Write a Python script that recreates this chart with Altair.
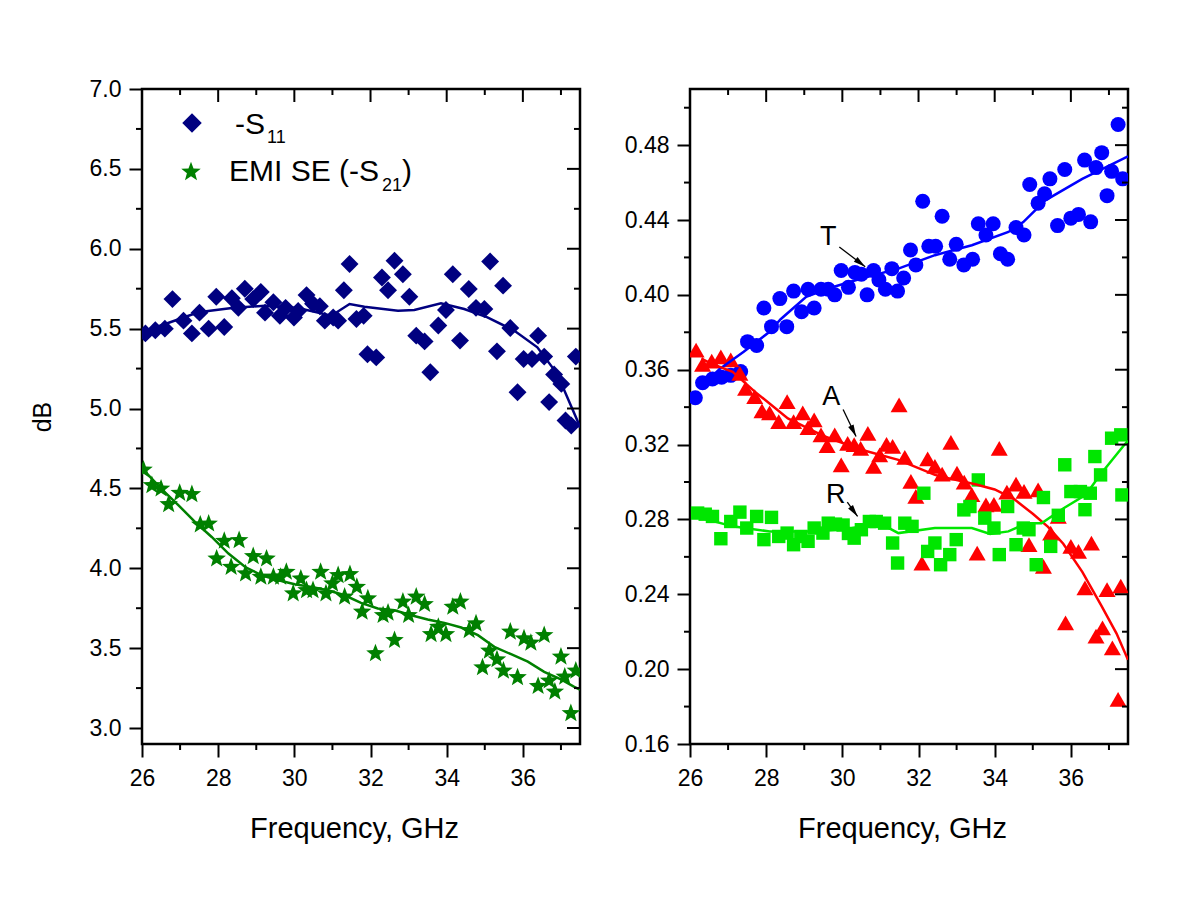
import math
import altair as alt
import pandas as pd

# ---------------- data ----------------
# Left panel: -S11 (diamonds) and EMI SE (-S21) (stars), dB
s11_freq = [26.09, 26.35, 26.6, 26.8, 27.09, 27.31, 27.51, 27.75, 27.95, 28.16, 28.36, 28.53, 28.70,
            28.92, 29.12, 29.23, 29.45, 29.62, 29.77, 29.99, 30.1, 30.32, 30.49, 30.67, 30.80, 31.02,
            31.15, 31.3, 31.45, 31.63, 31.82, 31.92, 32.15, 32.3, 32.46, 32.63, 32.85, 33.02, 33.2,
            33.42, 33.57, 33.78, 33.98, 34.16, 34.35, 34.58, 34.77, 34.99, 35.14, 35.32, 35.48, 35.67,
            35.86, 36.02, 36.24, 36.4, 36.56, 36.69, 36.82, 37.01, 37.12, 37.27, 37.39]
s11_db = [5.47, 5.49, 5.50, 5.685, 5.55, 5.47, 5.60, 5.50, 5.70, 5.51, 5.69, 5.63, 5.75, 5.685, 5.73,
          5.60, 5.665, 5.58, 5.63, 5.57, 5.61, 5.71, 5.655, 5.64, 5.55, 5.57, 5.55, 5.74, 5.905, 5.56,
          5.58, 5.34, 5.32, 5.82, 5.74, 5.925, 5.84, 5.70, 5.456, 5.42, 5.227, 5.52, 5.617, 5.84, 5.425,
          5.748, 5.63, 5.623, 5.92, 5.358, 5.769, 5.504, 5.102, 5.31, 5.31, 5.456, 5.325, 5.04, 5.213,
          5.154, 4.925, 4.894, 5.325]
s21_freq = [26.04, 26.26, 26.5, 26.7, 26.99, 27.31, 27.53, 27.75, 27.96, 28.16, 28.34, 28.55, 28.72,
            28.92, 29.12, 29.27, 29.45, 29.64, 29.79, 29.97, 30.17, 30.32, 30.49, 30.69, 30.83, 31.0,
            31.15, 31.32, 31.46, 31.64, 31.78, 31.93, 32.13, 32.33, 32.46, 32.63, 32.85, 33.0, 33.2,
            33.42, 33.59, 33.78, 33.98, 34.16, 34.36, 34.59, 34.77, 34.94, 35.12, 35.32, 35.49, 35.67,
            35.86, 36.03, 36.21, 36.4, 36.56, 36.69, 36.84, 37.0, 37.1, 37.26, 37.39]
s21_db = [4.617, 4.519, 4.498, 4.40, 4.471, 4.463, 4.273, 4.279, 4.06, 4.171, 4.008, 4.175, 3.967,
          4.075, 3.946, 4.06, 3.946, 3.946, 3.977, 3.842, 3.935, 3.862, 3.862, 3.977, 3.842, 3.904,
          3.956, 3.821, 3.962, 3.883, 3.727, 3.81, 3.467, 3.706, 3.721, 3.55, 3.79, 3.706, 3.821,
          3.775, 3.587, 3.633, 3.587, 3.758, 3.79, 3.612, 3.654, 3.379, 3.483, 3.429, 3.358, 3.602,
          3.317, 3.56, 3.533, 3.262, 3.581, 3.296, 3.227, 3.446, 3.321, 3.092, 3.358]
s11_fit_freq = [26.0, 26.61, 27.48, 28.36, 29.23, 30.1, 30.97, 31.45, 31.84, 32.72, 33.15, 33.85,
                34.46, 35.07, 35.77, 36.38, 36.9, 37.43, 37.5]
s11_fit_db = [5.48, 5.529, 5.602, 5.629, 5.644, 5.629, 5.581, 5.654, 5.637, 5.612, 5.617, 5.658,
              5.623, 5.571, 5.488, 5.383, 5.217, 4.925, 4.88]
s21_fit_freq = [26.03, 26.55, 26.96, 27.39, 27.83, 28.27, 28.71, 29.14, 29.58, 30.01, 30.45, 30.88,
                31.32, 31.75, 32.19, 32.63, 33.07, 33.5, 33.94, 34.38, 34.82, 35.25, 35.69, 36.13,
                36.56, 37.0, 37.35, 37.5]
s21_fit_db = [4.617, 4.487, 4.394, 4.29, 4.196, 4.092, 4.008, 3.956, 3.925, 3.9, 3.883, 3.862, 3.831,
              3.783, 3.748, 3.737, 3.706, 3.679, 3.658, 3.629, 3.581, 3.508, 3.462, 3.415, 3.352,
              3.304, 3.258, 3.24]

# Right panel: T (circles), A (triangles), R (squares)
t_freq = [26.14, 26.33, 26.59, 26.83, 27.07, 27.33, 27.51, 27.75, 27.94, 28.14, 28.36, 28.54, 28.72,
          28.93, 29.1, 29.26, 29.44, 29.63, 29.8, 29.97, 30.16, 30.33, 30.5, 30.65, 30.82, 30.96,
          31.13, 31.3, 31.45, 31.61, 31.79, 31.93, 32.11, 32.27, 32.45, 32.62, 32.82, 32.99, 33.19,
          33.42, 33.57, 33.77, 33.96, 34.15, 34.34, 34.56, 34.77, 34.92, 35.14, 35.31, 35.45, 35.65,
          35.84, 36.0, 36.2, 36.36, 36.52, 36.66, 36.81, 36.95, 37.07, 37.24, 37.36]
t_val = [0.345, 0.353, 0.355, 0.356, 0.357, 0.359, 0.375, 0.373, 0.393, 0.383, 0.398, 0.383, 0.402,
         0.391, 0.403, 0.393, 0.403, 0.403, 0.400, 0.413, 0.404, 0.412, 0.411, 0.400, 0.413, 0.408,
         0.403, 0.414, 0.402, 0.409, 0.424, 0.416, 0.450, 0.426, 0.426, 0.442, 0.419, 0.427, 0.416,
         0.419, 0.438, 0.432, 0.438, 0.422, 0.419, 0.436, 0.432, 0.459, 0.449, 0.454, 0.462, 0.437,
         0.467, 0.441, 0.443, 0.472, 0.439, 0.468, 0.476, 0.453, 0.466, 0.491, 0.462]
a_freq = [26.16, 26.33, 26.57, 26.81, 27.07, 27.31, 27.46, 27.70, 27.89, 28.09, 28.33, 28.55, 28.72,
          28.96, 29.10, 29.26, 29.44, 29.60, 29.80, 29.97, 30.14, 30.31, 30.48, 30.67, 30.82, 30.98,
          31.16, 31.32, 31.49, 31.64, 31.80, 31.93, 32.09, 32.24, 32.43, 32.62, 32.85, 33.01, 33.20,
          33.40, 33.54, 33.77, 33.98, 34.12, 34.32, 34.56, 34.77, 34.90, 35.14, 35.28, 35.47, 35.67,
          35.86, 36.0, 36.2, 36.37, 36.54, 36.66, 36.83, 36.95, 37.09, 37.24, 37.31]
a_val = [0.3705, 0.3628, 0.3646, 0.3669, 0.3652, 0.358, 0.350, 0.3456, 0.338, 0.337, 0.3323, 0.3429,
         0.3323, 0.337, 0.3291, 0.3332, 0.3252, 0.3195, 0.3252, 0.3092, 0.3207, 0.320, 0.318, 0.326,
         0.3083, 0.3145, 0.3201, 0.319, 0.3412, 0.3131, 0.3003, 0.2923, 0.2567, 0.3123, 0.3083, 0.3042,
         0.3212, 0.3047, 0.2999, 0.2932, 0.262, 0.2878, 0.2881, 0.318, 0.2946, 0.2988, 0.295, 0.2665,
         0.2958, 0.2549, 0.2727, 0.2816, 0.2247, 0.2656, 0.2629, 0.2434, 0.2674, 0.2176, 0.222, 0.2425,
         0.2114, 0.1838, 0.2443]
r_freq = [26.2, 26.4, 26.59, 26.81, 27.07, 27.31, 27.49, 27.75, 27.94, 28.14, 28.33, 28.55, 28.72,
          28.91, 29.1, 29.26, 29.49, 29.63, 29.82, 30.02, 30.16, 30.31, 30.5, 30.71, 30.89, 31.11,
          31.32, 31.45, 31.64, 31.83, 32.14, 32.24, 32.43, 32.58, 32.82, 32.99, 33.19, 33.35, 33.57,
          33.74, 33.98, 34.12, 34.34, 34.56, 34.75, 34.9, 35.09, 35.28, 35.47, 35.67, 35.84, 36.0,
          36.25, 36.37, 36.51, 36.63, 36.78, 37.07, 37.31, 37.34]
r_val = [0.2834, 0.2828, 0.2816, 0.2697, 0.2789, 0.2839, 0.2754, 0.2816, 0.2692, 0.2811, 0.2709,
         0.2727, 0.2665, 0.2709, 0.2683, 0.2754, 0.2727, 0.278, 0.2775, 0.277, 0.2725, 0.270, 0.2745,
         0.2789, 0.2789, 0.278, 0.2674, 0.2567, 0.278, 0.2763, 0.294, 0.2629, 0.2674, 0.2558, 0.2612,
         0.2692, 0.2851, 0.2869, 0.3011, 0.2807, 0.2754, 0.2612, 0.2869, 0.2665, 0.2754, 0.2745,
         0.2558, 0.2917, 0.2656, 0.2822, 0.3092, 0.2949, 0.2949, 0.2852, 0.294, 0.3136, 0.3038,
         0.3234, 0.3252, 0.2931]
t_fit_freq = [26.6, 26.78, 27.41, 28.09, 28.38, 29.05, 29.63, 30.5, 31.47, 32.43, 33.4, 34.36, 34.75,
              35.33, 36.3, 37.5]
t_fit_val = [0.357, 0.3604, 0.3696, 0.3803, 0.387, 0.3989, 0.4034, 0.4087, 0.414, 0.4212, 0.4265,
             0.4336, 0.4389, 0.4505, 0.462, 0.474]
a_fit_freq = [26.3, 26.54, 27.12, 27.7, 28.57, 29.54, 30.5, 31.47, 32.43, 33.0, 33.49, 34.0, 34.5,
              35.0, 35.4, 35.8, 36.3, 36.8, 37.2, 37.5]
a_fit_val = [0.366, 0.3634, 0.3589, 0.3483, 0.334, 0.3243, 0.3172, 0.3118, 0.3038, 0.301, 0.2988,
             0.296, 0.291, 0.283, 0.276, 0.267, 0.252, 0.234, 0.219, 0.205]
r_fit_freq = [26.16, 27.12, 28.09, 29.05, 30.02, 30.98, 31.47, 32.43, 33.40, 33.88, 34.36, 34.85,
              35.23, 35.81, 36.39, 36.78, 37.4, 37.5]
r_fit_val = [0.2816, 0.2763, 0.2736, 0.2736, 0.2745, 0.278, 0.2727, 0.2754, 0.2754, 0.2722, 0.2736,
             0.278, 0.278, 0.286, 0.2932, 0.3041, 0.3198, 0.322]

# axis ticks
x_major = [26, 28, 30, 32, 34, 36]
x_minor = [27, 29, 31, 33, 35, 37]
left_major = [3.0, 3.5, 4.0, 4.5, 5.0, 5.5, 6.0, 6.5, 7.0]
left_minor = [3.25, 3.75, 4.25, 4.75, 5.25, 5.75, 6.25, 6.75]
right_major = [0.16, 0.20, 0.24, 0.28, 0.32, 0.36, 0.40, 0.44, 0.48]
right_minor = [0.18, 0.22, 0.26, 0.30, 0.34, 0.38, 0.42, 0.46, 0.50]

# annotations (right panel)
ann_labels = ["T", "A", "R"]
ann_text_freq = [29.63, 29.71, 29.83]
ann_text_val = [0.431, 0.3456, 0.2933]
ann_from_freq = [29.92, 30.02, 30.13]
ann_from_val = [0.4256, 0.3387, 0.2892]
ann_to_freq = [30.6, 30.36, 30.4]
ann_to_val = [0.415, 0.3243, 0.2816]

# legend (left panel)
legend_labels = ["-S", "EMI SE (-S"]
legend_subs = ["11", "21"]

# ---------------- chart ----------------
FONT = "Liberation Sans"
W, H = 438, 655
XDOM = [26, 37.5]
LDOM = [2.9, 7.0]
RDOM = [0.16, 0.51]
MAJ, MIN = 13, 6

NAVY = "#000080"
DGREEN = "#008000"
BLUE = "#0000FF"
RED = "#FF0000"
LGREEN = "#00E600"

# five-pointed star as an SVG path in the [-1, 1] box (Vega has no built-in star)
STAR = ("M0,-1L0.247,-0.34L0.951,-0.309L0.399,0.13L0.588,0.809L0,0.42L-0.588,0.809"
        "L-0.399,0.13L-0.951,-0.309L-0.247,-0.34Z")
ARROW_HEAD = "M0,0L0.5,2L-0.5,2Z"

xs = alt.Scale(domain=XDOM, nice=False, zero=False)
ys_l = alt.Scale(domain=LDOM, nice=False, zero=False)
ys_r = alt.Scale(domain=RDOM, nice=False, zero=False)

x_axis = alt.Axis(orient="bottom", values=x_major, tickSize=MAJ, tickWidth=2, tickColor="black",
                  domain=False, grid=False, labelFont=FONT, labelFontSize=23, labelColor="black",
                  labelFlush=False, labelOverlap=False, labelPadding=10,
                  title="Frequency, GHz", titleFont=FONT, titleFontSize=29,
                  titleFontWeight="normal", titleColor="black", titleX=W / 2 - 7, titleY=84,
                  titleBaseline="middle", titleAlign="center")
y_axis_l = alt.Axis(orient="left", values=left_major, tickSize=MAJ, tickWidth=2, tickColor="black",
                    domain=False, grid=False, format=".1f", labelFont=FONT, labelFontSize=23,
                    labelColor="black", labelPadding=8, labelOverlap=False,
                    title="dB", titleFont=FONT, titleFontSize=25, titleFontWeight="normal",
                    titleColor="black", titleX=-100, titleY=H / 2, titleAngle=270,
                    titleBaseline="middle", titleAlign="center")
y_axis_r = alt.Axis(orient="left", values=right_major, tickSize=MAJ, tickWidth=2, tickColor="black",
                    domain=False, grid=False, format=".2f", labelFont=FONT, labelFontSize=23,
                    labelColor="black", labelPadding=8, labelOverlap=False, title=None)


def frame(f, v):
    return pd.DataFrame({"f": f, "v": v})


def enc(yscale, xaxis=None, yaxis=None, xf="f", yf="v"):
    return dict(x=alt.X(f"{xf}:Q", scale=xs, axis=xaxis),
                y=alt.Y(f"{yf}:Q", scale=yscale, axis=yaxis))


def tick_layers(yscale, y_major, y_minor):
    """Minor ticks outside (bottom/left) and inward ticks on top/right, drawn as rules."""
    tx = lambda vals: pd.DataFrame({"t": vals})
    rule = dict(color="black", strokeWidth=2)
    xenc = lambda: alt.X("t:Q", scale=xs, axis=None)
    yenc = lambda: alt.Y("t:Q", scale=yscale, axis=None)
    return [
        alt.Chart(tx(x_minor)).mark_rule(**rule).encode(x=xenc(), y=alt.value(H), y2=alt.value(H + MIN)),
        alt.Chart(tx(x_major)).mark_rule(**rule).encode(x=xenc(), y=alt.value(0), y2=alt.value(MAJ)),
        alt.Chart(tx(x_minor)).mark_rule(**rule).encode(x=xenc(), y=alt.value(0), y2=alt.value(MIN)),
        alt.Chart(tx(y_minor)).mark_rule(**rule).encode(y=yenc(), x=alt.value(-MIN), x2=alt.value(0)),
        alt.Chart(tx(y_major)).mark_rule(**rule).encode(y=yenc(), x=alt.value(W - MAJ), x2=alt.value(W)),
        alt.Chart(tx(y_minor)).mark_rule(**rule).encode(y=yenc(), x=alt.value(W - MIN), x2=alt.value(W)),
    ]


one = pd.DataFrame({"k": [0]})

# ----- left panel -----
l_s11 = alt.Chart(frame(s11_freq, s11_db)).mark_point(
    shape="diamond", filled=True, size=320, color=NAVY, opacity=1, clip=True
).encode(**enc(ys_l, x_axis, y_axis_l))
l_s21 = alt.Chart(frame(s21_freq, s21_db)).mark_point(
    shape=STAR, filled=True, size=380, color=DGREEN, opacity=1, clip=True
).encode(**enc(ys_l))
l_s11_fit = alt.Chart(frame(s11_fit_freq, s11_fit_db)).mark_line(
    color=NAVY, strokeWidth=2.5, clip=True).encode(**enc(ys_l))
l_s21_fit = alt.Chart(frame(s21_fit_freq, s21_fit_db)).mark_line(
    color=DGREEN, strokeWidth=2.5, clip=True).encode(**enc(ys_l))

leg_d = alt.Chart(one).mark_point(shape="diamond", filled=True, size=380, color=NAVY, opacity=1
                                  ).encode(x=alt.value(50), y=alt.value(34))
leg_s = alt.Chart(one).mark_point(shape=STAR, filled=True, size=420, color=DGREEN, opacity=1
                                  ).encode(x=alt.value(49), y=alt.value(83))
txt = dict(font=FONT, color="black", align="left", baseline="alphabetic")
leg_t1 = alt.Chart(one).mark_text(text=legend_labels[0], fontSize=30, **txt).encode(
    x=alt.value(93), y=alt.value(45))
leg_t1s = alt.Chart(one).mark_text(text=legend_subs[0], fontSize=18, **txt).encode(
    x=alt.value(125), y=alt.value(54))
leg_t2 = alt.Chart(one).mark_text(text=legend_labels[1], fontSize=30, **txt).encode(
    x=alt.value(87), y=alt.value(92))
leg_t2s = alt.Chart(one).mark_text(text=legend_subs[1], fontSize=18, **txt).encode(
    x=alt.value(240), y=alt.value(102))
leg_t2c = alt.Chart(one).mark_text(text=")", fontSize=30, **txt).encode(
    x=alt.value(260), y=alt.value(92))

left = alt.layer(
    l_s11, l_s21, l_s11_fit, l_s21_fit, *tick_layers(ys_l, left_major, left_minor),
    leg_d, leg_s, leg_t1, leg_t1s, leg_t2, leg_t2s, leg_t2c
).resolve_axis(x="independent", y="independent").properties(width=W, height=H)

# ----- right panel -----
r_t = alt.Chart(frame(t_freq, t_val)).mark_point(
    shape="circle", filled=True, size=225, color=BLUE, opacity=1, clip=True
).encode(**enc(ys_r, x_axis, y_axis_r))
r_a = alt.Chart(frame(a_freq, a_val)).mark_point(
    shape="triangle-up", filled=True, size=290, color=RED, opacity=1, clip=True
).encode(**enc(ys_r))
r_r = alt.Chart(frame(r_freq, r_val)).mark_point(
    shape="square", filled=True, size=180, color=LGREEN, opacity=1, clip=True
).encode(**enc(ys_r))
r_t_fit = alt.Chart(frame(t_fit_freq, t_fit_val)).mark_line(
    color=BLUE, strokeWidth=2.5, clip=True).encode(**enc(ys_r))
r_a_fit = alt.Chart(frame(a_fit_freq, a_fit_val)).mark_line(
    color=RED, strokeWidth=2.5, clip=True).encode(**enc(ys_r))
r_r_fit = alt.Chart(frame(r_fit_freq, r_fit_val)).mark_line(
    color=LGREEN, strokeWidth=2.5, clip=True).encode(**enc(ys_r))

px_f = W / (XDOM[1] - XDOM[0])
px_v = H / (RDOM[1] - RDOM[0])
angles = []
for f0, v0, f1, v1 in zip(ann_from_freq, ann_from_val, ann_to_freq, ann_to_val):
    angles.append(math.degrees(math.atan2((f1 - f0) * px_f, (v1 - v0) * px_v)) % 360)

ann = pd.DataFrame({
    "lab": ann_labels, "ft": ann_text_freq, "vt": ann_text_val,
    "f0": ann_from_freq, "v0": ann_from_val, "f1": ann_to_freq, "v1": ann_to_val,
    "ang": angles,
})
ann_text = alt.Chart(ann).mark_text(font=FONT, fontSize=27, color="black", align="center",
                                    baseline="middle").encode(
    text="lab:N", **enc(ys_r, xf="ft", yf="vt"))
ann_line = alt.Chart(ann).mark_rule(color="black", strokeWidth=1.3).encode(
    x2="f1:Q", y2="v1:Q", **enc(ys_r, xf="f0", yf="v0"))
ann_head = alt.Chart(ann).mark_point(shape=ARROW_HEAD, filled=True, size=144,
                                     color="black", opacity=1).encode(
    angle=alt.Angle("ang:Q", scale=None), **enc(ys_r, xf="f1", yf="v1"))

right = alt.layer(
    r_t, r_a, r_r, r_t_fit, r_a_fit, r_r_fit, *tick_layers(ys_r, right_major, right_minor),
    ann_line, ann_head, ann_text
).resolve_axis(x="independent", y="independent").properties(width=W, height=H)

chart = alt.hconcat(left, right, spacing=110, bounds="flush").properties(
    padding={"left": 20, "top": 68, "right": 5, "bottom": 5},
    background="white",
).configure_view(stroke="black", strokeWidth=2.5)

chart.save("out.html", embed_options={"renderer": "svg", "actions": False})
